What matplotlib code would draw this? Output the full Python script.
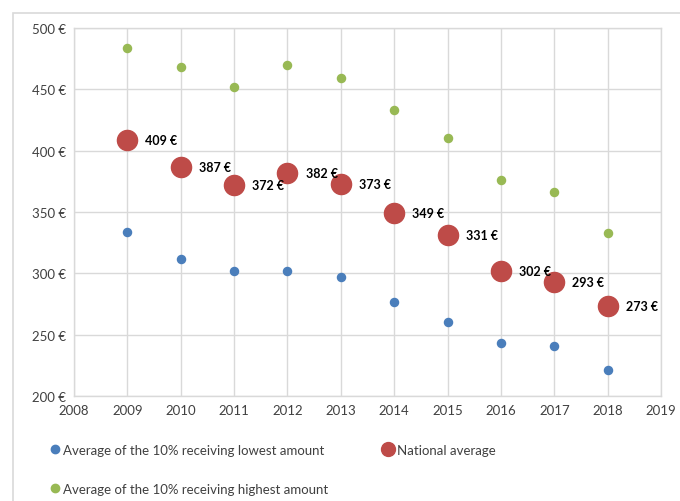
import matplotlib.pyplot as plt
from matplotlib.patches import Rectangle
from matplotlib.lines import Line2D

years = [2009, 2010, 2011, 2012, 2013, 2014, 2015, 2016, 2017, 2018]
lowest = [334, 312, 302, 302, 297, 277, 260, 243, 241, 221]
national = [409, 387, 372, 382, 373, 349, 331, 302, 293, 273]
highest = [484, 468, 452, 470, 459, 433, 410, 376, 366, 333]

BLUE = '#4a7ebb'
RED = '#be4b48'
GREEN = '#98b954'
GRID = '#d9d9d9'

plt.rcParams['font.family'] = ['Lato', 'DejaVu Sans']

fig = plt.figure(figsize=(6.8, 5.02), dpi=100)
fig.patches.append(Rectangle((13 / 680, -0.01), 1.0, 1 - 14 / 502 + 0.01,
                             transform=fig.transFigure, fill=False,
                             edgecolor=GRID, linewidth=1.2))

ax = fig.add_axes([74 / 680, 1 - 397 / 502, (661 - 74) / 680, (397 - 29) / 502])

ax.scatter(years, lowest, s=34, color=BLUE, zorder=3)
ax.scatter(years, highest, s=34, color=GREEN, zorder=3)
ax.scatter(years, national, s=210, color=RED, zorder=3)

for x, v in zip(years, national):
    ax.annotate(f'{v} €', (x, v), xytext=(13, 0), textcoords='offset points',
                ha='left', va='center', fontsize=9, fontweight='bold')

ax.set_xlim(2008, 2019)
ax.set_ylim(200, 500)
ax.set_xticks(range(2008, 2020))
ax.set_yticks(range(200, 501, 50))
ax.set_yticklabels([f'{v} €' for v in range(200, 501, 50)])
ax.grid(True, color=GRID, linewidth=1)
ax.set_axisbelow(True)
for side in ['top', 'right', 'left', 'bottom']:
    ax.spines[side].set_color(GRID)
    ax.spines[side].set_linewidth(1)
ax.tick_params(length=0, labelsize=9.5, colors='#404040', pad=6)

# legend proxies with Excel-like marker sizes
h_low = Line2D([], [], ls='none', marker='o', ms=6, color=BLUE,
               label='Average of the 10% receiving lowest amount')
h_high = Line2D([], [], ls='none', marker='o', ms=6, color=GREEN,
                label='Average of the 10% receiving highest amount')
h_nat = Line2D([], [], ls='none', marker='o', ms=10, color=RED,
               label='National average')

fig.legend(handles=[h_low, h_high, h_nat], ncol=2, loc='upper left',
           bbox_to_anchor=(33 / 680, 1 - 433 / 502), frameon=False,
           fontsize=9.5, handletextpad=-0.1, labelspacing=2.05,
           columnspacing=3.75, handlelength=1.5, labelcolor='#404040')

fig.savefig('out.png', dpi=100)
